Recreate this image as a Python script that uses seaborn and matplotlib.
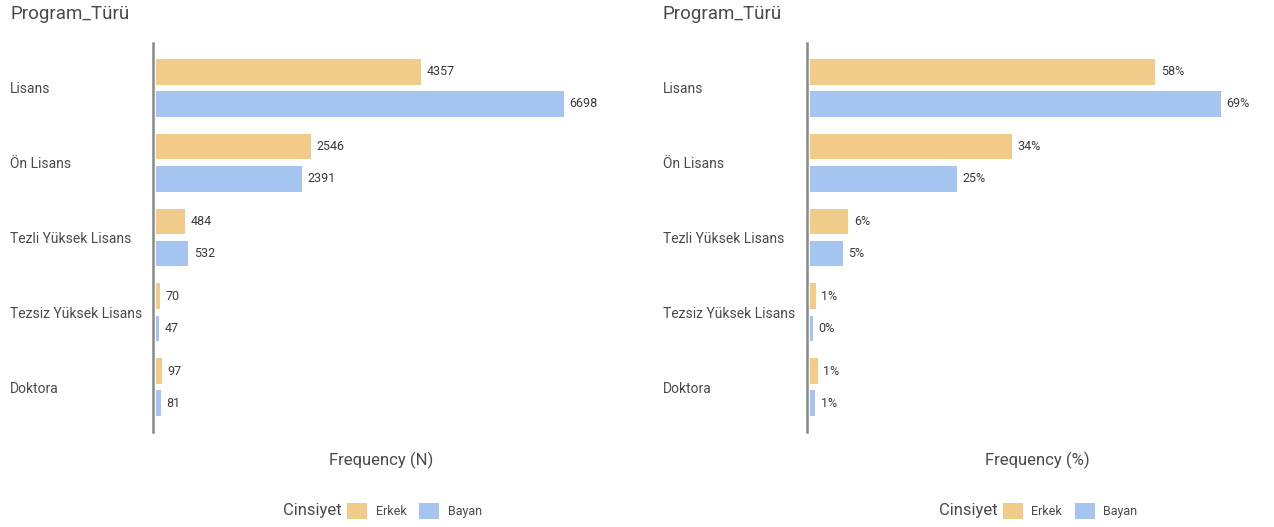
import matplotlib
matplotlib.use("Agg")
import matplotlib.pyplot as plt
import seaborn as sns
import pandas as pd
from matplotlib.patches import Patch

categories = ["Lisans", "Ön Lisans", "Tezli Yüksek Lisans", "Tezsiz Yüksek Lisans", "Doktora"]
genders = ["Erkek", "Bayan"]
erkek_n = [4357, 2546, 484, 70, 97]
bayan_n = [6698, 2391, 532, 47, 81]
erkek_pct = [57.7, 33.7, 6.41, 0.93, 1.28]
bayan_pct = [68.7, 24.6, 5.46, 0.48, 0.83]

colors = {"Erkek": "#F0CB8A", "Bayan": "#A6C4F0"}
text_col = "#4a4a4a"

sns.set_theme(style="white")
plt.rcParams["font.family"] = ["Roboto", "DejaVu Sans"]

rows = []
for i, c in enumerate(categories):
    rows.append({"Program": c, "Cinsiyet": "Erkek", "N": erkek_n[i], "P": erkek_pct[i]})
    rows.append({"Program": c, "Cinsiyet": "Bayan", "N": bayan_n[i], "P": bayan_pct[i]})
df = pd.DataFrame(rows)

W, H = 1274, 527
fig = plt.figure(figsize=(W / 100, H / 100), dpi=100)

def px_axes(left, right, top, bottom):
    return fig.add_axes([left / W, (H - bottom) / H, (right - left) / W, (bottom - top) / H])

panels = [
    dict(l=153, r=610, col="N", xlim=(-50, 7460), fmt="{:.0f}", xlabel="Frequency (N)", lab_x=10),
    dict(l=807, r=1267, col="P", xlim=(-0.5, 76.4), fmt="{:.0f}%", xlabel="Frequency (%)", lab_x=663),
]

for p in panels:
    ax = px_axes(p["l"], p["r"], 43, 432)
    sns.barplot(data=df, y="Program", x=p["col"], hue="Cinsiyet", order=categories,
                hue_order=genders, palette=colors, orient="h", width=0.86, gap=0.2,
                errorbar=None, legend=False, ax=ax, saturation=1, linewidth=0)
    ax.set_xlim(*p["xlim"])
    ax.set_ylim(4.6, -0.6)
    for cont in ax.containers:
        ax.bar_label(cont, labels=[p["fmt"].format(v) for v in cont.datavalues],
                     padding=4, fontsize=9, color="#3a3a3a")
    for s in ["top", "right", "bottom"]:
        ax.spines[s].set_visible(False)
    ax.spines["left"].set_color("#888888")
    ax.spines["left"].set_linewidth(1.8)
    ax.set_xticks([])
    ax.set_ylabel("")
    ax.set_xlabel(p["xlabel"], fontsize=12, color=text_col, labelpad=14)
    ax.tick_params(axis="y", length=0, pad=(p["l"] - p["lab_x"]) * 0.72, labelsize=10,
                   labelcolor=text_col)
    for t in ax.get_yticklabels():
        t.set_ha("left")
    # title
    fig.text(p["lab_x"] / W, 1 - 14 / H, "Program_Türü", fontsize=13.5, color=text_col,
             ha="left", va="center")
    # legend
    cx = (p["l"] + p["r"]) / 2
    fig.text((cx - 98) / W, 1 - 511 / H, "Cinsiyet", fontsize=12, color=text_col,
             ha="left", va="center")
    handles = [Patch(facecolor=colors[g], edgecolor="none") for g in genders]
    fig.legend(handles, genders, loc="center", bbox_to_anchor=((cx + 33) / W, 1 - 511 / H),
               ncol=2, frameon=False, fontsize=9, handlelength=1.6, handleheight=1.6,
               handletextpad=0.7, columnspacing=1.0, labelcolor=text_col)

fig.savefig("out.png", dpi=100)
